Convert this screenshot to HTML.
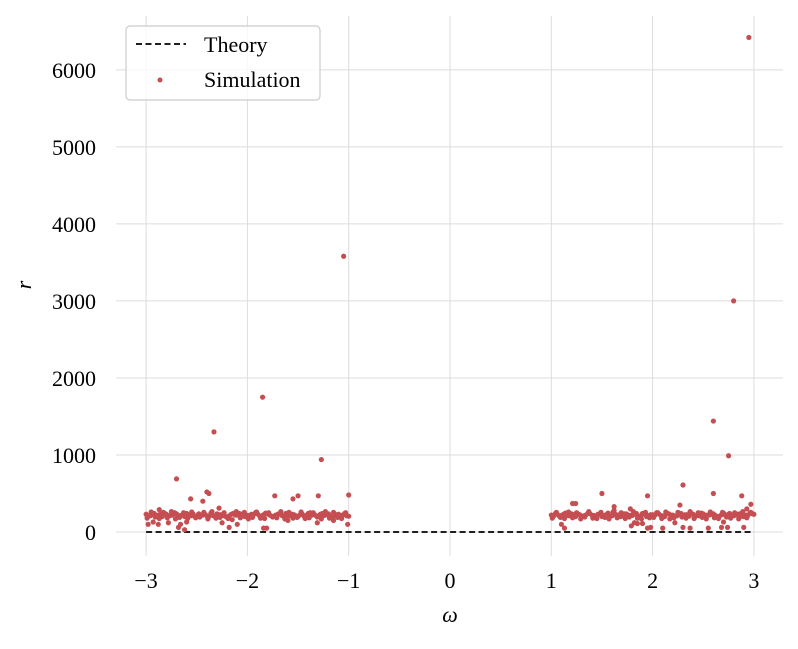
<!DOCTYPE html>
<html><head><meta charset="utf-8"><style>
body{margin:0;background:#fff}
svg text{font-family:"Liberation Serif",serif;fill:#000}
</style></head><body>
<svg id="chart" width="798" height="644" viewBox="0 0 798 644">
<g id="grid"></g>
<g id="ticks"></g>
<g id="theory"></g>
<g id="sim"></g>
<text x="450" y="622" font-size="22" font-style="italic" text-anchor="middle">ω</text>
<text x="0" y="0" font-size="22" font-style="italic" text-anchor="middle" transform="translate(31,285) rotate(-90)">r</text>
<g>
<rect x="126" y="26" width="194" height="74" rx="4" fill="#fff" fill-opacity="0.8" stroke="#ccc" stroke-width="1.2"/>
<line x1="136" y1="44" x2="186" y2="44" stroke="#000" stroke-width="1.8" stroke-dasharray="6,3.5"/>
<text x="204" y="52" font-size="22">Theory</text>
<circle cx="160" cy="80" r="2.5" fill="#c44e52"/>
<text x="204" y="87" font-size="22">Simulation</text>
</g>
</svg>
<script>
const xTicks=[-3,-2,-1,0,1,2,3];
const xTickLabels=["−3","−2","−1","0","1","2","3"];
const yTicks=[0,1000,2000,3000,4000,5000,6000];
const yTickLabels=["0","1000","2000","3000","4000","5000","6000"];
const theoryW=[-3,3];
const theoryR=[0,0];
const leftW=[-3.00,-2.96,-2.92,-2.88,-2.84,-2.80,-2.76,-2.72,-2.68,-2.64,-2.60,-2.56,-2.52,-2.48,-2.44,-2.40,-2.36,-2.32,-2.28,-2.24,-2.20,-2.16,-2.12,-2.08,-2.04,-2.00,-1.96,-1.92,-1.88,-1.84,-1.80,-1.76,-1.72,-1.68,-1.64,-1.60,-1.56,-1.52,-1.48,-1.44,-1.40,-1.36,-1.32,-1.28,-1.24,-1.20,-1.16,-1.12,-1.08,-1.04,-1.00,
-2.98,-2.94,-2.90,-2.86,-2.82,-2.78,-2.74,-2.70,-2.66,-2.62,-2.58,-2.54,-2.50,-2.46,-2.42,-2.38,-2.34,-2.30,-2.26,-2.22,-2.18,-2.14,-2.10,-2.06,-2.02,-1.98,-1.94,-1.90,-1.86,-1.82,-1.78,-1.74,-1.70,-1.66,-1.62,-1.58,-1.54,-1.50,-1.46,-1.42,-1.38,-1.34,-1.30,-1.26,-1.22,-1.18,-1.14,-1.10,-1.06,-1.02,
-2.99,-2.95,-2.91,-2.87,-2.83,-2.79,-2.75,-2.71,-2.67,-2.63,-2.59,-2.55,-2.51,-2.47,-2.43,-2.39,-2.35,-2.31,-2.27,-2.23,-2.19,-2.15,-2.11,-2.07,-2.03,-1.99,-1.95,-1.91,-1.87,-1.83,-1.79,-1.75,-1.71,-1.67,-1.63,-1.59,-1.55,-1.51,-1.47,-1.43,-1.39,-1.35,-1.31,-1.27,-1.23,-1.19,-1.15,-1.11,-1.07,-1.03];
const leftR=[230,210,240,220,200,230,215,250,205,225,240,210,200,235,220,210,245,200,225,215,190,230,220,240,205,215,230,250,210,225,235,205,220,240,200,215,230,210,225,205,240,220,210,230,215,235,200,225,210,240,205,
215,225,200,230,245,210,220,235,215,200,225,240,210,220,230,200,215,235,225,205,210,240,220,230,200,215,225,235,210,245,220,205,230,215,240,210,225,200,235,215,220,230,210,240,225,205,215,230,220,210,
180,260,195,175,255,185,265,170,190,250,175,260,185,195,255,170,265,180,190,250,175,160,265,185,255,170,190,260,180,175,250,195,185,265,170,255,180,190,260,175,185,250,195,170,265,180,255,190,175,250];
const rightW=[1.00,1.04,1.08,1.12,1.16,1.20,1.24,1.28,1.32,1.36,1.40,1.44,1.48,1.52,1.56,1.60,1.64,1.68,1.72,1.76,1.80,1.84,1.88,1.92,1.96,2.00,2.04,2.08,2.12,2.16,2.20,2.24,2.28,2.32,2.36,2.40,2.44,2.48,2.52,2.56,2.60,2.64,2.68,2.72,2.76,2.80,2.84,2.88,2.92,2.96,3.00,
1.02,1.06,1.10,1.14,1.18,1.22,1.26,1.30,1.34,1.38,1.42,1.46,1.50,1.54,1.58,1.62,1.66,1.70,1.74,1.78,1.82,1.86,1.90,1.94,1.98,2.02,2.06,2.10,2.14,2.18,2.22,2.26,2.30,2.34,2.38,2.42,2.46,2.50,2.54,2.58,2.62,2.66,2.70,2.74,2.78,2.82,2.86,2.90,2.94,2.98,
1.01,1.05,1.09,1.13,1.17,1.21,1.25,1.29,1.33,1.37,1.41,1.45,1.49,1.53,1.57,1.61,1.65,1.69,1.73,1.77,1.81,1.85,1.89,1.93,1.97,2.01,2.05,2.09,2.13,2.17,2.21,2.25,2.29,2.33,2.37,2.41,2.45,2.49,2.53,2.57,2.61,2.65,2.69,2.73,2.77,2.81,2.85,2.89,2.93,2.97];
const rightR=[220,240,205,230,215,235,200,225,210,240,220,205,230,215,245,210,225,200,235,220,215,240,205,230,210,225,250,215,200,235,220,210,240,225,205,230,215,245,210,220,235,200,225,215,240,210,230,205,220,245,230,
200,230,215,245,210,225,235,205,220,240,215,230,200,225,210,245,220,205,235,215,230,210,240,200,225,215,235,210,245,220,205,230,215,225,240,200,210,235,220,230,215,205,245,225,210,220,235,200,215,240,
180,255,190,175,260,185,250,170,195,265,180,175,255,190,170,260,185,250,175,195,265,180,170,255,185,190,250,175,260,170,185,255,195,180,265,175,250,190,170,260,185,175,255,195,180,250,170,265,185,255];
const outW=[-2.70,-2.40,-2.38,-2.33,-1.85,-1.73,-1.55,-1.50,-1.30,-1.27,-1.05,-1.00,-2.56,-2.44,-2.98,-2.93,-2.88,-2.78,-2.68,-2.66,-2.62,-2.60,-2.25,-2.18,-2.10,-1.84,-1.81,-1.60,-1.31,-1.15,-1.01,-2.87,-2.28,-1.38,
1.10,1.13,1.21,1.24,1.50,1.62,1.62,1.78,1.95,2.30,2.27,2.60,2.60,2.75,2.80,2.88,2.95,2.97,2.93,1.79,1.85,1.90,1.95,1.98,2.10,2.30,2.37,2.55,2.68,2.74,2.90,2.70,2.22,1.82];
const outR=[690,520,500,1300,1750,470,430,470,470,940,3580,480,430,400,100,130,100,120,60,100,30,130,120,60,100,50,50,150,120,150,100,290,310,250,
100,50,370,370,500,330,280,300,470,610,350,1440,500,990,3000,470,6420,360,300,80,110,110,50,60,50,60,50,50,60,60,60,130,120,120];
const X0=116,X1=783,Y0=16,Y1=556;
const xs=w=>450+w*101.3;
const ys=r=>532-r*0.07703;
const ns="http://www.w3.org/2000/svg";
function mk(t,a,p){const e=document.createElementNS(ns,t);for(const k in a)e.setAttribute(k,a[k]);p.appendChild(e);return e;}
const grid=document.getElementById('grid'),ticks=document.getElementById('ticks');
xTicks.forEach((v,i)=>{
 const l=mk('line',{x1:xs(v),x2:xs(v),y1:Y0,y2:Y1,stroke:'#dcdcdc','stroke-width':1},grid);
 
 
 const t=mk('text',{x:xs(v),y:588,'font-size':22,'text-anchor':'middle'},ticks);
 t.textContent=xTickLabels[i];
 
 
});
yTicks.forEach((v,i)=>{
 const l=mk('line',{x1:X0,x2:X1,y1:ys(v),y2:ys(v),stroke:'#dcdcdc','stroke-width':1},grid);
 
 
 const t=mk('text',{x:96,y:ys(v)+8,'font-size':22,'text-anchor':'end'},ticks);
 t.textContent=yTickLabels[i];
 
 
});
const th=mk('line',{x1:xs(theoryW[0]),x2:xs(theoryW[1]),y1:ys(theoryR[0]),y2:ys(theoryR[1]),stroke:'#000','stroke-width':1.8,'stroke-dasharray':'6,3.5'},document.getElementById('theory'));


const sim=document.getElementById('sim');
function pts(W,R){W.forEach((w,i)=>{
 const c=mk('circle',{cx:xs(w),cy:ys(R[i]),r:2.6,fill:'#c44e52'},sim);
 
 
});}
pts(leftW,leftR);pts(rightW,rightR);pts(outW,outR);
</script>
</body></html>
